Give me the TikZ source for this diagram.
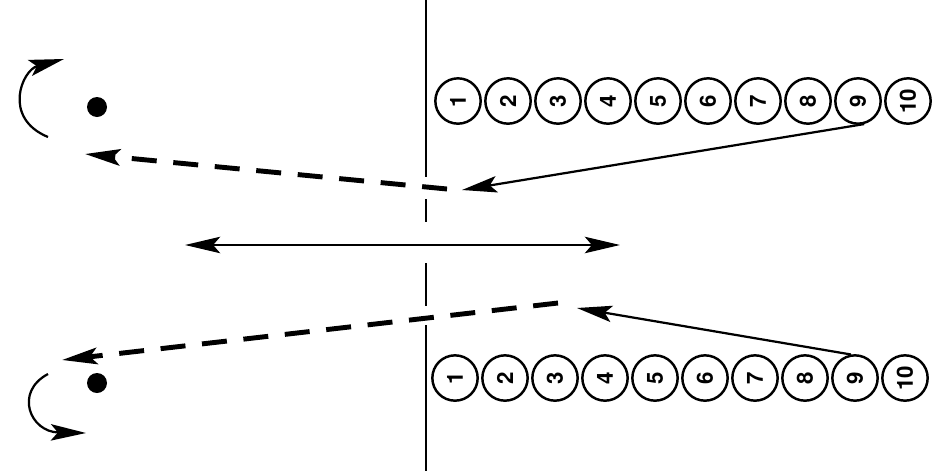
\documentclass[tikz,border=0pt]{standalone}
\usepackage{fontspec}
\setsansfont{TeX Gyre Heros}
\usetikzlibrary{arrows.meta}

\begin{document}
\begin{tikzpicture}[x=0.03cm, y=-0.03cm, line width=1.9pt,
    >={Stealth[length=30pt, width=14pt, inset=6pt]},
    player/.style = {draw, circle, line width=2.1pt, minimum size=1.36cm, inner sep=0pt,
                     font=\fontsize{19}{19}\selectfont\sffamily\bfseries, rotate=90},
    ball/.style = {circle, fill, inner sep=0pt, minimum size=0.6cm},
    run/.style = {line width=4.2pt, dash pattern=on 0.75cm off 0.5cm}]
    \useasboundingbox (0,0) rectangle (933,471);

    % centre line, broken where the runs cross it
    \draw (426,0) -- (426,177);
    \draw (426,199) -- (426,222);
    \draw (426,263) -- (426,306);
    \draw (426,325) -- (426,471);

    % the two rows (nodes turned, so anchors are turned by 90 too)
    \foreach \n in {1,...,10} {
        \node[player] (top\n) at ({408+50*\n},101) {\n};
        \node[player] (bot\n) at ({405+50*\n},378) {\n};
    }

    % balls
    \node[ball] (topball) at (97,107) {};
    \node[ball] (botball) at (97,383) {};

    % turning points
    \coordinate (topturn) at (462,190);
    \coordinate (topfrom) at (447,189);
    \coordinate (topend) at (85,154);
    \coordinate (botturn) at (577,308);
    \coordinate (botfrom) at (558,303);
    \coordinate (botend) at (62,360);

    \draw[->] (top9.195) -- (topturn);
    \draw[run, ->] (topfrom) -- (topend);
    \draw[->] (bot9.10) -- (botturn);
    \draw[run, ->] (botfrom) -- (botend);

    % the pass across
    \draw[<->] (185,245) -- (620,245);

    % turns round the balls
    \draw[->] (48,137) .. controls (2,118) and (22,70) .. (64,59);
    \draw[->] (48,374) .. controls (14,392) and (30,432) .. (86,433);
\end{tikzpicture}
\end{document}
